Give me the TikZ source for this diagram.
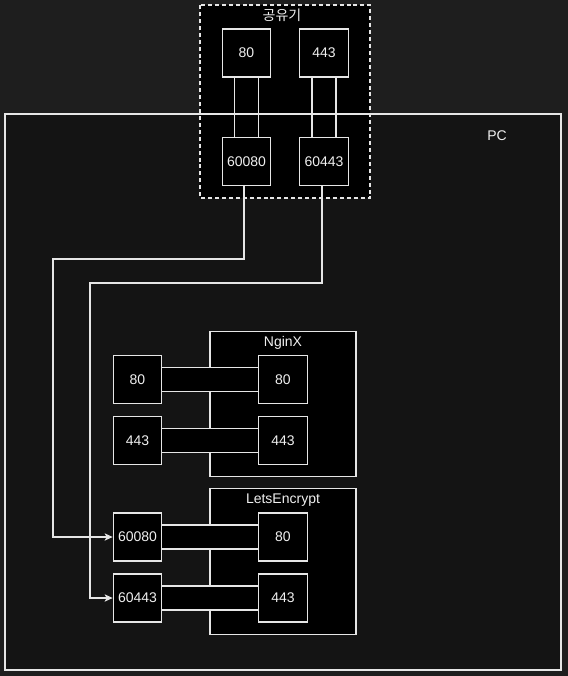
\documentclass[tikz,border=0pt]{standalone}
\usepackage{fontspec}
\setmainfont{Liberation Sans}
\newfontfamily\krfont{Noto Sans CJK KR}
\usetikzlibrary{arrows.meta}
\definecolor{outerbg}{HTML}{1E1E1E}
\definecolor{innerbg}{HTML}{141414}
\definecolor{wirec}{HTML}{E6E6E6}
\definecolor{txtc}{HTML}{F0F0F0}
\tikzset{
  pbox/.style={draw=wirec, fill=black, line width=0.8pt, minimum width=36.5pt, minimum height=36pt, inner sep=0pt, text=txtc, font=\fontsize{10.5}{12}\selectfont},
  wire/.style={draw=wirec, line width=0.8pt},
  lbl/.style={text=txtc, font=\fontsize{10.5}{12}\selectfont, inner sep=0pt},
  grp/.style={draw=wirec, fill=black, line width=0.8pt},
}
\begin{document}
\begin{tikzpicture}[x=0.75pt,y=-0.75pt]
\useasboundingbox (0,0) rectangle (568,676);
\fill[outerbg] (0,0) rectangle (568,676);
% PC fill
\coordinate (pcA) at (5,114);
\coordinate (pcB) at (561,670);
\fill[innerbg] (pcA) rectangle (pcB);
% router
\coordinate (rtA) at (200,5);
\coordinate (rtB) at (370,198);
\fill[black] (rtA) rectangle (rtB);
\draw[wire, dash pattern=on 3pt off 2.2pt] (rtA) rectangle (rtB);
\node[lbl, font=\krfont\fontsize{10.5}{12}\selectfont] (rtl) at (282,15) {공유기};
\node[pbox] (r80) at (246.5,53) {80};
\node[pbox] (r443) at (324,53) {443};
\node[pbox] (r60080) at (246.5,161.5) {60080};
\node[pbox] (r60443) at (324,161.5) {60443};
% router links
\foreach \a/\b in {r80/r60080, r443/r60443}{
  \fill[black] ([xshift=-9pt]\a.south) rectangle ([xshift=9pt]\b.north);
  \draw[wire] ([xshift=-9pt]\a.south) -- ([xshift=-9pt]\b.north);
  \draw[wire] ([xshift=9pt]\a.south) -- ([xshift=9pt]\b.north);
}
% PC border
\draw[wire] (pcA) rectangle (pcB);
\node[lbl] (pcl) at (497,136) {PC};
% NginX
\node[grp, minimum width=109.5pt, minimum height=109pt, inner sep=0pt] (ngx) at (283,404) {};
\node[lbl] (ngxl) at (283,343) {NginX};
\node[pbox] (nl80) at (137.5,379.5) {80};
\node[pbox] (nr80) at (283,379.5) {80};
\node[pbox] (nl443) at (137.5,440.5) {443};
\node[pbox] (nr443) at (283,440.5) {443};
% LetsEncrypt
\node[grp, minimum width=109.5pt, minimum height=109pt, inner sep=0pt] (le) at (283,561.5) {};
\node[lbl] (lel) at (283,500) {LetsEncrypt};
\node[pbox] (l60080) at (137.5,537) {60080};
\node[pbox] (lr80) at (283,537) {80};
\node[pbox] (l60443) at (137.5,598) {60443};
\node[pbox] (lr443) at (283,598) {443};
% horizontal links
\foreach \a/\b in {nl80/nr80, nl443/nr443, l60080/lr80, l60443/lr443}{
  \fill[black] ([yshift=-9pt]\a.east) rectangle ([yshift=9pt]\b.west);
  \draw[wire] ([yshift=-9pt]\a.east) -- ([yshift=-9pt]\b.west);
  \draw[wire] ([yshift=9pt]\a.east) -- ([yshift=9pt]\b.west);
}
% arrows
\coordinate (t1) at (53,259);
\coordinate (t2) at (90,283);
\draw[wire, -{Stealth[length=6pt,width=5.5pt,inset=1.5pt]}] ([xshift=-1.9pt]r60080.south) |- (t1) |- (l60080.west);
\draw[wire, -{Stealth[length=6pt,width=5.5pt,inset=1.5pt]}] ([xshift=-1.5pt]r60443.south) |- (t2) |- (l60443.west);
\end{tikzpicture}
\end{document}
